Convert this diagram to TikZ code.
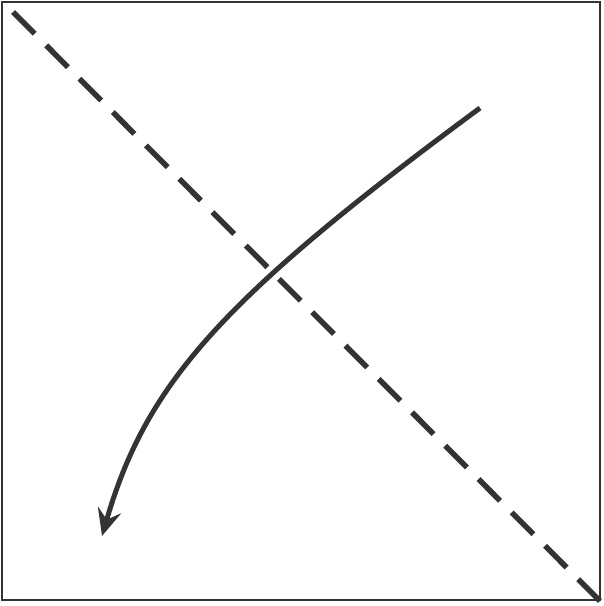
\documentclass[tikz,border=0pt]{standalone}
\usetikzlibrary{arrows.meta}
\definecolor{ink}{HTML}{333333}
\begin{document}
\begin{tikzpicture}[x=1pt,y=-1pt,
    frame/.style={draw=ink, line width=2.3pt},
    fold/.style={draw=ink, line width=5.5pt, dash pattern=on 30.7pt off 16.4pt},
    turn/.style={draw=ink, line width=5pt, -{Stealth[length=27pt,width=24pt,inset=10pt]}}]
            \useasboundingbox (0,0) rectangle (604,606);
            \coordinate (tl) at (2,2);
            \coordinate (br) at (600,600);
            \coordinate (d1) at (13,12);
            \coordinate (d2) at (602,603);
            \coordinate (s) at (480,108);
            \coordinate (c1) at (221,299);
            \coordinate (c2) at (146,384);
            \coordinate (t) at (102,536);
            \draw[frame] (tl) rectangle (br);
            \draw[fold] (d1) -- (d2);
            \draw[turn] (s) .. controls (c1) and (c2) .. (t);
        \end{tikzpicture}
\end{document}
